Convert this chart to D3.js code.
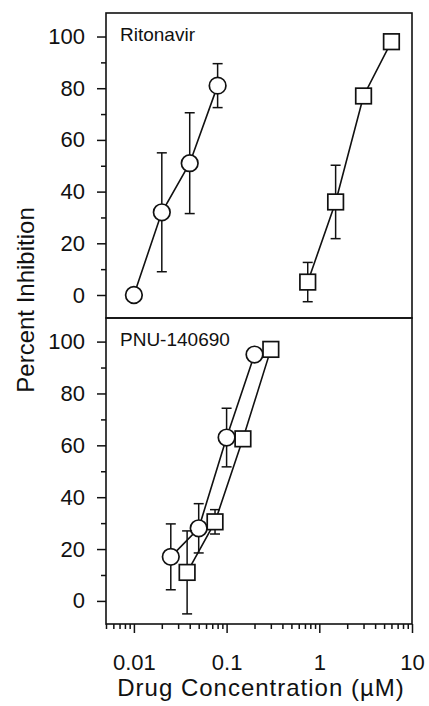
<!DOCTYPE html>
<meta charset="utf-8">
<head>
<script src="https://cdn.jsdelivr.net/npm/d3@7"></script>
<style>
	body { margin: 0; background: #fff; }
	text { font-family: "Liberation Sans", Arial, sans-serif; fill: #111; }
</style>
</head>
<body>
<div id="chart"></div>
<script>

// data (concentration in uM, percent inhibition, +/- error)
const ritoCircleConc = [0.01, 0.02, 0.04, 0.08]
const ritoCircleInhib = [0, 32, 51, 81]
const ritoCircleErr = [null, 23, 19.5, 8.5]

const ritoSquareConc = [0.75, 1.5, 3, 6]
const ritoSquareInhib = [5, 36, 77, 98]
const ritoSquareErr = [7.6, 14.2, null, null]

const pnuCircleConc = [0.025, 0.05, 0.1, 0.2]
const pnuCircleInhib = [17, 28, 63, 95]
const pnuCircleErr = [12.7, 9.5, 11.3, null]

const pnuSquareConc = [0.0375, 0.075, 0.15, 0.3]
const pnuSquareInhib = [11, 30.5, 62.5, 97]
const pnuSquareErr = [16, 4.7, null, null]

const panelNames = ['Ritonavir', 'PNU-140690']
const yTickVals = [0, 20, 40, 60, 80, 100]
const yMinorVals = [-0, 10, 30, 50, 70, 90]
const xTickVals = [0.01, 0.1, 1, 10]
const xTickLabels = ['0.01', '0.1', '1', '10']

const width = 429, height = 706
const left = 106, right = 412
const panelTops = [13, 318], panelBottoms = [318, 624]

const svg = d3.select('#chart').append('svg')
	.attr('width', width)
	.attr('height', height)

const x = d3.scaleLog()
	.domain([0.005, 10])
	.range([left, right])

const zip = (c, v, e) => c.map((d, i) => ({conc: d, inhib: v[i], err: e[i]}))

const panels = [
	{name: panelNames[0], series: [
		{shape: 'circle', pts: zip(ritoCircleConc, ritoCircleInhib, ritoCircleErr)},
		{shape: 'square', pts: zip(ritoSquareConc, ritoSquareInhib, ritoSquareErr)}]},
	{name: panelNames[1], series: [
		{shape: 'circle', pts: zip(pnuCircleConc, pnuCircleInhib, pnuCircleErr)},
		{shape: 'square', pts: zip(pnuSquareConc, pnuSquareInhib, pnuSquareErr)}]}
]

panels.forEach((p, pi) => {
	const y = d3.scaleLinear()
		.domain([-8.9, 109.1])
		.range([panelBottoms[pi], panelTops[pi]])

	const g = svg.append('g')

	// y axis, major + minor ticks
	const yAx = g.append('g')
		.attr('transform', `translate(${left},0)`)
		.call(d3.axisLeft(y).tickValues(yTickVals).tickSize(9).tickSizeOuter(0).tickPadding(12))
	yAx.select('.domain').remove()
	yAx.selectAll('line').attr('stroke', '#111').attr('stroke-width', 1.5)
	yAx.selectAll('text')
		.attr('font-size', 22)
		.attr('font-family', '"Liberation Sans", Arial, sans-serif')
		.attr('fill', '#111')

	const yMin = g.append('g')
		.attr('transform', `translate(${left},0)`)
		.call(d3.axisLeft(y).tickValues(yMinorVals.slice(1)).tickSize(5).tickFormat(''))
	yMin.select('.domain').remove()
	yMin.selectAll('line').attr('stroke', '#111').attr('stroke-width', 1.5)

	// frame
	g.append('rect')
		.attr('x', left)
		.attr('y', panelTops[pi])
		.attr('width', right - left)
		.attr('height', panelBottoms[pi] - panelTops[pi])
		.attr('fill', 'none')
		.attr('stroke', '#111')
		.attr('stroke-width', 1.6)

	g.append('text')
		.attr('x', left + 14)
		.attr('y', panelTops[pi] + 28)
		.attr('font-size', 19)
		.text(p.name)

	const line = d3.line()
		.x(d => x(d.conc))
		.y(d => y(d.inhib))

	p.series.forEach(s => {
		// error bars first so the markers sit on top
		const eb = g.append('g').selectAll('g')
			.data(s.pts.filter(d => d.err))
			.join('g')
			.attr('stroke', '#111')
			.attr('stroke-width', 1.5)
		eb.append('line')
			.attr('x1', d => x(d.conc)).attr('x2', d => x(d.conc))
			.attr('y1', d => y(d.inhib - d.err)).attr('y2', d => y(d.inhib + d.err))
		eb.append('line')
			.attr('x1', d => x(d.conc) - 5).attr('x2', d => x(d.conc) + 5)
			.attr('y1', d => y(d.inhib + d.err)).attr('y2', d => y(d.inhib + d.err))
		eb.append('line')
			.attr('x1', d => x(d.conc) - 5).attr('x2', d => x(d.conc) + 5)
			.attr('y1', d => y(d.inhib - d.err)).attr('y2', d => y(d.inhib - d.err))

		g.append('path')
			.datum(s.pts)
			.attr('d', line)
			.attr('fill', 'none')
			.attr('stroke', '#111')
			.attr('stroke-width', 1.6)

		if (s.shape === 'circle') {
			g.append('g').selectAll('circle')
				.data(s.pts)
				.join('circle')
				.attr('cx', d => x(d.conc))
				.attr('cy', d => y(d.inhib))
				.attr('r', 8.3)
				.attr('fill', '#fff')
				.attr('stroke', '#111')
				.attr('stroke-width', 1.7)
		} else {
			g.append('g').selectAll('rect')
				.data(s.pts)
				.join('rect')
				.attr('x', d => x(d.conc) - 7.8)
				.attr('y', d => y(d.inhib) - 7.8)
				.attr('width', 15.6)
				.attr('height', 15.6)
				.attr('fill', '#fff')
				.attr('stroke', '#111')
				.attr('stroke-width', 1.7)
		}
	})
})

// x axis at the bottom of the lower panel
const xMinorVals = []
;[0.001, 0.01, 0.1, 1].forEach(dec => {
	for (let k = 2; k <= 9; k++) {
		const v = +(dec * k).toPrecision(3)
		if (v >= 0.005 && v <= 10) xMinorVals.push(v)
	}
})

const xAx = svg.append('g')
	.attr('transform', `translate(0,${panelBottoms[1]})`)
	.call(d3.axisBottom(x).tickValues(xTickVals).tickSize(9).tickSizeOuter(0).tickPadding(21)
		.tickFormat((d, i) => xTickLabels[i]))
xAx.select('.domain').remove()
xAx.selectAll('line').attr('stroke', '#111').attr('stroke-width', 1.5)
xAx.selectAll('text')
	.attr('font-size', 22)
	.attr('font-family', '"Liberation Sans", Arial, sans-serif')
	.attr('fill', '#111')

const xMin = svg.append('g')
	.attr('transform', `translate(0,${panelBottoms[1]})`)
	.call(d3.axisBottom(x).tickValues(xMinorVals).tickSize(5).tickFormat(''))
xMin.select('.domain').remove()
xMin.selectAll('line').attr('stroke', '#111').attr('stroke-width', 1.5)

// axis titles
svg.append('text')
	.attr('x', (left + right) / 2 + 2)
	.attr('y', 696)
	.attr('text-anchor', 'middle')
	.attr('font-size', 24)
	.attr('letter-spacing', 1)
	.text('Drug Concentration (µM)')

svg.append('text')
	.attr('transform', 'translate(34,300) rotate(-90)')
	.attr('text-anchor', 'middle')
	.attr('font-size', 24)
	.text('Percent Inhibition')

</script>
</body>
